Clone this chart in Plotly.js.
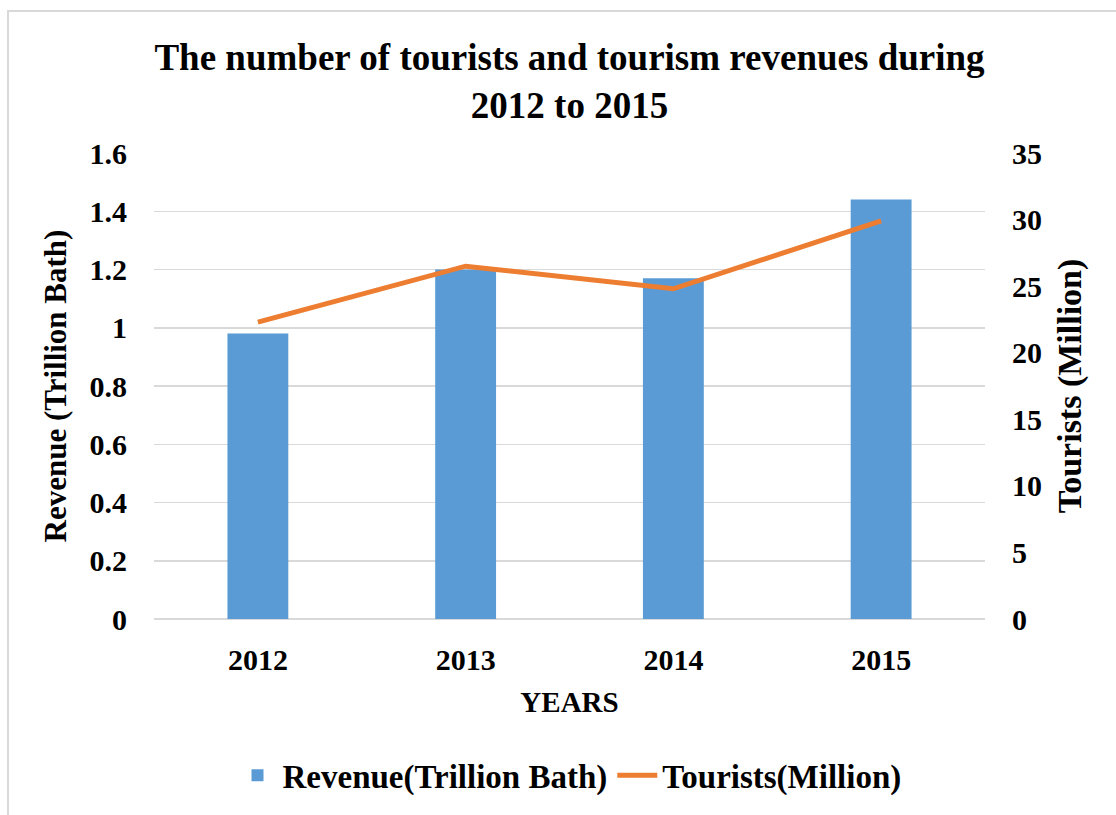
<!DOCTYPE html>
<html>
<head>
<meta charset="utf-8">
<script src="https://cdn.plot.ly/plotly-3.0.1.min.js"></script>
<style>
  html, body { margin:0; padding:0; background:#ffffff; }
  #frame { position:absolute; left:7px; top:10px; width:1200px; height:900px;
           border-left:2px solid #d9d9d9; border-top:2px solid #d9d9d9; }
  #chart { position:absolute; left:0; top:0; width:1116px; height:815px; }
</style>
</head>
<body>
<div id="frame"></div>
<div id="chart"></div>
<script>
const years = ['2012', '2013', '2014', '2015'];
const revenue = [0.98, 1.20, 1.17, 1.44];
const tourists = [22.3, 26.5, 24.8, 29.9];

const serif = '"Liberation Serif", "Times New Roman", Times, serif';

const traces = [
  {
    type: 'bar', x: years, y: revenue, name: 'Revenue(Trillion Bath)',
    marker: { color: '#5b9bd5' }, yaxis: 'y', hoverinfo: 'skip'
  },
  {
    type: 'scatter', mode: 'lines', x: years, y: tourists, name: 'Tourists(Million)',
    line: { color: '#ed7d31', width: 5 }, yaxis: 'y2', hoverinfo: 'skip'
  }
];

const layout = {
  width: 1116, height: 815,
  paper_bgcolor: 'rgba(0,0,0,0)', plot_bgcolor: 'rgba(0,0,0,0)',
  margin: { l: 154, r: 131, t: 153, b: 194 },
  font: { family: serif, color: '#000000', weight: 'bold' },
  showlegend: true,
  bargap: 0.707,
  title: {
    text: 'The number of tourists and tourism revenues during<br>2012 to 2015',
    font: { family: serif, size: 37, color: '#000', weight: 'bold' },
    x: 0.5, xanchor: 'center', xref: 'paper',
    y: 1 - 70 / 815, yanchor: 'top', yref: 'container'
  },
  xaxis: {
    type: 'category',
    showgrid: false, zeroline: false, showline: false,
    tickfont: { family: serif, size: 30, color: '#000', weight: 'bold' },
    ticklabelstandoff: 20,
    title: { text: 'YEARS', font: { family: serif, size: 29, color: '#000', weight: 'bold' }, standoff: 16 }
  },
  yaxis: {
    range: [0, 1.6], dtick: 0.2, tick0: 0,
    showgrid: true, gridcolor: '#d9d9d9', gridwidth: 1.5,
    zeroline: true, zerolinecolor: '#d9d9d9', zerolinewidth: 1.5,
    showline: false,
    tickfont: { family: serif, size: 30, color: '#000', weight: 'bold' },
    ticklabelstandoff: 26,
    title: { text: 'Revenue (Trillion Bath)', font: { family: serif, size: 31, color: '#000', weight: 'bold' }, standoff: 13 }
  },
  yaxis2: {
    overlaying: 'y', side: 'right',
    range: [0, 35], dtick: 5, tick0: 0,
    showgrid: false, zeroline: false, showline: false,
    tickfont: { family: serif, size: 30, color: '#000', weight: 'bold' },
    ticklabelstandoff: 26,
    title: { text: 'Tourists (Million)', font: { family: serif, size: 34, color: '#000', weight: 'bold' }, standoff: 16 }
  },
  legend: {
    orientation: 'h', x: 0.5, xanchor: 'center', xref: 'paper',
    y: -(778 - 621) / 468, yanchor: 'middle',
    font: { family: serif, size: 33, color: '#000', weight: 'bold' },
    itemwidth: 40, tracegroupgap: 0, traceorder: 'normal'
  }
};

Plotly.newPlot('chart', traces, layout, { staticPlot: true, displayModeBar: false });
</script>
</body>
</html>
